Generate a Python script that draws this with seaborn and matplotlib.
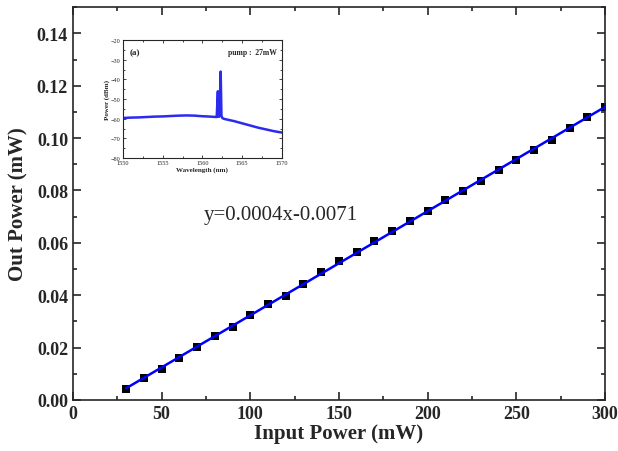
import numpy as np
import pandas as pd
import matplotlib
matplotlib.use('Agg')
import matplotlib.pyplot as plt
from matplotlib.ticker import MultipleLocator
import seaborn as sns

# main curve: output power vs pump power
input_power = [30, 40, 50, 60, 70, 80, 90, 100, 110, 120, 130, 140, 150, 160,
               170, 180, 190, 200, 210, 220, 230, 240, 250, 260, 270, 280, 290, 300]
out_power = [0.0041, 0.0082, 0.0120, 0.0160, 0.0202, 0.0243, 0.0280, 0.0326,
             0.0367, 0.0397, 0.0444, 0.0490, 0.0530, 0.0566, 0.0608, 0.0646,
             0.0685, 0.0723, 0.0763, 0.0799, 0.0836, 0.0877, 0.0917, 0.0955,
             0.0993, 0.1040, 0.1080, 0.1118]
fit_label = 'y=0.0004x-0.0071'

# inset spectrum, pump 27mW
wavelength = [1550.0, 1551.0, 1552.0, 1553.0, 1554.0, 1555.0, 1556.0, 1557.0,
              1558.0, 1559.0, 1560.0, 1561.0, 1561.8, 1561.95, 1562.0, 1562.1,
              1562.2, 1562.3, 1562.4, 1562.5, 1562.7, 1563.0, 1564.0, 1565.0,
              1566.0, 1567.0, 1568.0, 1569.0, 1570.0]
power_dbm = [-59.6, -59.4, -59.3, -59.1, -58.9, -58.8, -58.6, -58.4,
             -58.3, -58.4, -58.7, -58.9, -59.1, -46.0, -58.8, -59.0,
             -52.0, -36.0, -58.5, -59.6, -60.0, -60.3, -61.2, -62.3,
             -63.4, -64.5, -65.4, -66.3, -67.0]

df = pd.DataFrame({'Input': input_power, 'Out': out_power})
spec = pd.DataFrame({'wl': wavelength, 'p': power_dbm})

sns.set_style('ticks')
plt.rcParams['font.family'] = ['Liberation Serif', 'DejaVu Serif']

fig = plt.figure(figsize=(6.18, 4.52), dpi=100)
ax = fig.add_axes([0.118, 0.113, 0.861, 0.869])

sns.regplot(data=df, x='Input', y='Out', ax=ax, ci=None, marker='s',
            scatter_kws=dict(color='black', s=30, alpha=1, linewidths=0, zorder=2),
            line_kws=dict(color='#0000ff', lw=1.8, zorder=3))

ax.set_xlim(0, 300)
ax.set_ylim(0, 0.15)
ax.xaxis.set_major_locator(MultipleLocator(50))
ax.xaxis.set_minor_locator(MultipleLocator(25))
ax.set_yticks(np.arange(0, 0.141, 0.02))
ax.yaxis.set_minor_locator(MultipleLocator(0.01))
ax.tick_params(which='both', direction='in', top=True, right=True, width=1.2)
ax.tick_params(which='major', length=6)
ax.tick_params(which='minor', length=3)
ax.set_xticks(ax.get_xticks())
ax.set_xticklabels(['%d' % v for v in ax.get_xticks()], fontweight='bold', fontsize=13)
ax.set_yticklabels(['%.2f' % v for v in np.arange(0, 0.141, 0.02)],
                   fontweight='bold', fontsize=13)
ax.set_xlim(0, 300)
ax.set_xlabel('Input Power (mW)', fontsize=15, fontweight='bold', labelpad=1)
ax.set_ylabel('Out Power (mW)', fontsize=15, fontweight='bold', labelpad=6)
for s in ax.spines.values():
    s.set_linewidth(1.2)

ax.text(74, 0.0709, fit_label, fontsize=15, va='center', ha='left')

# inset
ins = fig.add_axes([0.199, 0.648, 0.257, 0.261])
sns.lineplot(data=spec, x='wl', y='p', ax=ins, color='#2a2af0', lw=1.8)
ins.set_xlim(1550, 1570)
ins.set_ylim(-80, -20)
ins.xaxis.set_major_locator(MultipleLocator(5))
ins.xaxis.set_minor_locator(MultipleLocator(2.5))
ins.yaxis.set_major_locator(MultipleLocator(10))
ins.yaxis.set_minor_locator(MultipleLocator(5))
ins.tick_params(which='both', direction='in', top=True, right=True,
                labelsize=4.5, width=0.6, pad=1.5)
ins.tick_params(which='major', length=2.5)
ins.tick_params(which='minor', length=1.2)
ins.set_xlabel('Wavelength (nm)', fontsize=5, fontweight='bold', labelpad=1)
ins.set_ylabel('Power (dBm)', fontsize=5, fontweight='bold', labelpad=1)
for s in ins.spines.values():
    s.set_linewidth(0.8)
ins.text(0.04, 0.9, '(a)', transform=ins.transAxes, fontsize=6.5,
         fontweight='bold', va='center')
ins.text(0.97, 0.9, 'pump :  27mW', transform=ins.transAxes, fontsize=5.5,
         fontweight='bold', va='center', ha='right')

fig.savefig('out.png', dpi=100)
